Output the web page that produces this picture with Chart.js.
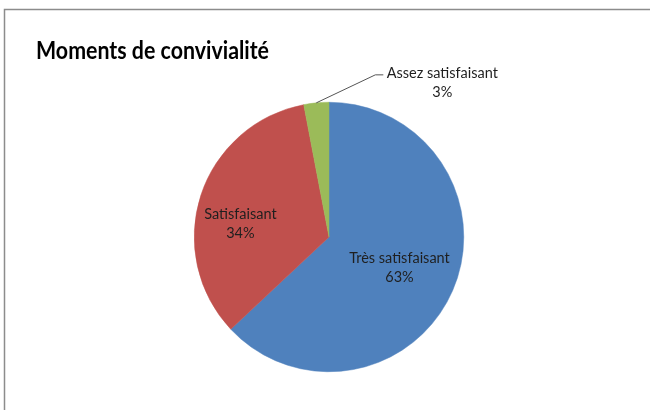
<!DOCTYPE html>
<html>
<head>
<meta charset="utf-8">
<script src="https://cdn.jsdelivr.net/npm/chart.js@4.4.0/dist/chart.umd.min.js"></script>
<style>
  html, body { margin: 0; padding: 0; background: #fff; }
  #wrap { width: 650px; height: 410px; }
</style>
</head>
<body>
<div id="wrap"><canvas id="pieChart" width="650" height="410"></canvas></div>
<script>
const chartTitle = "Moments de convivialité";
const categories = ["Très satisfaisant", "Satisfaisant", "Assez satisfaisant"];
const percents = [63, 34, 3];
const sliceColors = ["#4F81BD", "#C0504D", "#9BBB59"];

const labelFont = "14.5px Lato";
const labelColor = "#1f1f1f";

// frame + title, like the excel chart area
const framePlugin = {
  id: "frame",
  beforeDraw(chart) {
    const ctx = chart.ctx;
    ctx.save();
    ctx.fillStyle = "#fff";
    ctx.fillRect(0, 0, chart.width, chart.height);
    ctx.strokeStyle = "#8c8c8c";
    ctx.lineWidth = 1.5;
    ctx.strokeRect(4.5, 9.5, chart.width + 20, chart.height + 20);
    ctx.fillStyle = "#000";
    ctx.font = "bold 24px Lato";
    ctx.textBaseline = "alphabetic";
    // calibri is narrower than lato, squeeze a bit
    ctx.translate(36, 59);
    ctx.scale(0.89, 1);
    ctx.fillText(chartTitle, 0, 0);
    ctx.restore();
  },
};

// slice labels: name + percent, last one outside with a leader line
const sliceLabels = {
  id: "sliceLabels",
  afterDatasetsDraw(chart) {
    const ctx = chart.ctx;
    const arcs = chart.getDatasetMeta(0).data;
    ctx.save();
    ctx.font = labelFont;
    ctx.fillStyle = labelColor;
    ctx.textAlign = "center";
    ctx.textBaseline = "middle";
    arcs.forEach((arc, i) => {
      const { x, y, startAngle, endAngle, outerRadius } = arc.getProps(
        ["x", "y", "startAngle", "endAngle", "outerRadius"], true);
      const mid = (startAngle + endAngle) / 2;
      const dx = Math.cos(mid), dy = Math.sin(mid);
      const text = [categories[i], percents[i] + "%"];
      if (i === 2) {
        // outside label
        const ax = x + dx * outerRadius, ay = y + dy * outerRadius;
        const ex = ax + 59, ey = ay - 28;
        ctx.strokeStyle = "#555";
        ctx.lineWidth = 1;
        ctx.beginPath();
        ctx.moveTo(ax, ay);
        ctx.lineTo(ex, ey);
        ctx.lineTo(ex + 8, ey);
        ctx.stroke();
        const cx = ex + 67;
        ctx.fillText(text[0], cx, ey - 2);
        ctx.fillText(text[1], cx, ey + 17);
      } else {
        const frac = i === 0 ? 0.57 : 0.66;
        let cx = x + dx * outerRadius * frac;
        let cy = y + dy * outerRadius * frac;
        if (i === 1) { cx -= 4; cy += 14; }
        ctx.fillText(text[0], cx, cy - 9);
        ctx.fillText(text[1], cx, cy + 10);
      }
    });
    ctx.restore();
  },
};

new Chart(document.getElementById("pieChart"), {
  type: "pie",
  data: {
    labels: categories,
    datasets: [
      {
        data: percents,
        backgroundColor: sliceColors,
        borderColor: sliceColors,
        borderWidth: 0.5,
      },
    ],
  },
  options: {
    responsive: false,
    devicePixelRatio: 1,
    animation: false,
    layout: { padding: { top: 102, bottom: 38, left: 194, right: 186 } },
    plugins: {
      legend: { display: false },
      title: { display: false },
      tooltip: { enabled: false },
    },
  },
  plugins: [framePlugin, sliceLabels],
});
</script>
</body>
</html>
